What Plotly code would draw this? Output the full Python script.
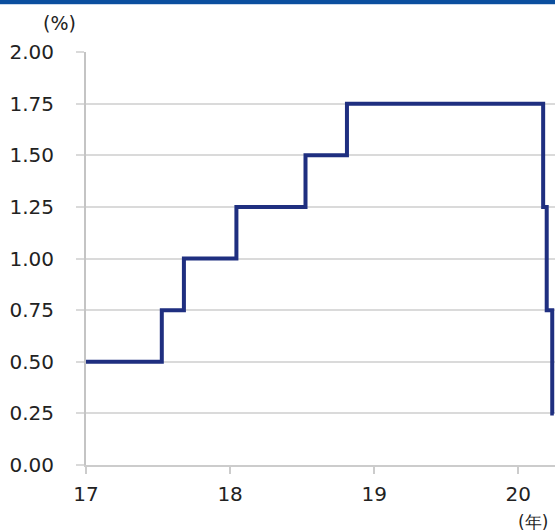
import plotly.graph_objects as go

# Policy rate (%) step data
dates = ["2017-01-01", "2017-07-12", "2017-09-06", "2018-01-17", "2018-07-11",
         "2018-10-24", "2020-03-04", "2020-03-13", "2020-03-27", "2020-03-31"]
rates = [0.50, 0.75, 1.00, 1.25, 1.50, 1.75, 1.25, 0.75, 0.25, 0.25]

x_tick_vals = ["2017-01-01", "2018-01-01", "2019-01-01", "2020-01-01"]
x_tick_text = ["17", "18", "19", "20"]
y_tick_vals = [0, 0.25, 0.5, 0.75, 1.0, 1.25, 1.5, 1.75, 2.0]
y_tick_text = ["0.00", "0.25", "0.50", "0.75", "1.00", "1.25", "1.50", "1.75", "2.00"]

W, H = 555, 531
L, R, T, B = 86, 0, 52, 66
pw, ph = W - L - R, H - T - B

FONT = "DejaVu Sans, Verdana, sans-serif"

fig = go.Figure()
fig.add_trace(go.Scatter(
    x=dates, y=rates, mode="lines",
    line=dict(color="#1f2f80", width=4, shape="hv"),
    hoverinfo="skip", showlegend=False,
))

fig.update_layout(
    width=W, height=H,
    margin=dict(l=L, r=R, t=T, b=B, pad=0),
    paper_bgcolor="white", plot_bgcolor="white",
    font=dict(family=FONT, size=20, color="#222222"),
    xaxis=dict(
        type="date",
        range=["2017-01-01", "2020-04-03"],
        tickvals=x_tick_vals, ticktext=x_tick_text,
        showgrid=False, zeroline=False,
        showline=True, linecolor="#cccccc", linewidth=2,
        ticks="outside", ticklen=7, tickwidth=2, tickcolor="#cccccc",
        ticklabelstandoff=3,
    ),
    yaxis=dict(
        range=[0, 2.0],
        tickvals=y_tick_vals, ticktext=y_tick_text,
        showgrid=True, gridcolor="#dadada", gridwidth=2,
        zeroline=False,
        showline=True, linecolor="#c4c4c4", linewidth=2,
        ticks="outside", ticklen=8, tickwidth=2, tickcolor="#dadada",
        ticklabelstandoff=18,
    ),
    shapes=[
        dict(type="rect", xref="paper", yref="paper",
             x0=-L / pw, x1=1 + 1 / pw,
             y0=1 + (T - 4) / ph, y1=1 + (T + 2) / ph,
             fillcolor="#0b4f9f", line=dict(width=0), layer="above"),
        dict(type="rect", xref="paper", yref="paper",
             x0=-L / pw, x1=1 + 1 / pw,
             y0=1 + (T - 5) / ph, y1=1 + (T - 4) / ph,
             fillcolor="#c9d8ec", line=dict(width=0), layer="above"),
    ],
    annotations=[
        dict(text="(%)", xref="paper", yref="paper",
             x=(59 - L) / pw, y=1 + (T - 23) / ph,
             xanchor="center", yanchor="middle", showarrow=False,
             font=dict(family=FONT, size=19, color="#222222")),
        dict(text="(年)", xref="paper", yref="paper",
             x=(533 - L) / pw, y=-(522 - T - ph) / ph,
             xanchor="center", yanchor="middle", showarrow=False,
             font=dict(family=FONT, size=17, color="#222222")),
    ],
)

fig.write_html("out.html")
